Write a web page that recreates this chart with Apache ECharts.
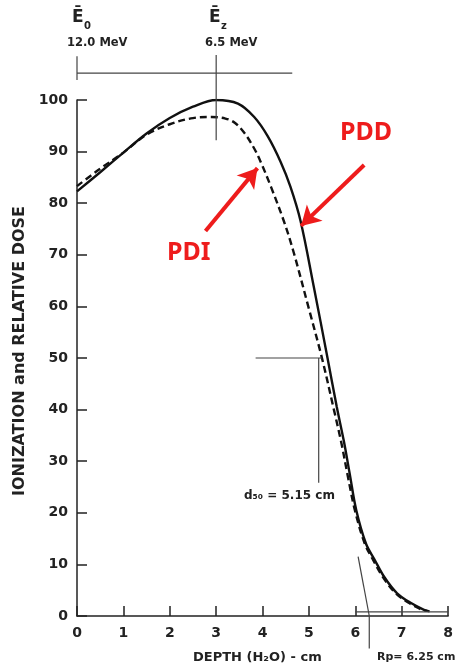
<!DOCTYPE html>
<html>
<head>
<meta charset="utf-8">
<script src="https://cdn.jsdelivr.net/npm/echarts@6/dist/echarts.min.js"></script>
<style>
  html, body { margin: 0; padding: 0; background: #fff; }
  #visualisation { width: 456px; height: 671px; }
</style>
</head>
<body>
<div id="visualisation"></div>
<script>
// depth (cm) and dose values
const pddDepth = [0, 0.5, 1, 1.5, 2, 2.5, 3, 3.47, 3.82, 4.11, 4.39, 4.6, 4.82, 5.1, 5.4, 5.6, 5.75, 5.88, 6.02, 6.23, 6.41, 6.62, 6.9, 7.2, 7.48, 7.6];
const pddValue = [82.3, 86, 89.8, 93.5, 96.5, 98.7, 100, 99.3, 96.7, 93, 88, 83.2, 76.5, 64, 50, 40.5, 34, 27.5, 20.5, 14, 11, 7.6, 4.4, 2.5, 1.2, 0.9];

const pdiDepth = [0, 0.5, 1, 1.5, 2, 2.5, 2.9, 3.2, 3.4, 3.61, 3.82, 3.96, 4.18, 4.46, 4.67, 5.0, 5.28, 5.54, 5.7, 5.84, 5.99, 6.2, 6.38, 6.59, 6.87, 7.16, 7.44, 7.55];
const pdiValue = [83.3, 86.7, 89.8, 93.3, 95.3, 96.5, 96.7, 96.4, 95.6, 93.6, 90.6, 88, 83.2, 76.5, 70.5, 59.5, 50, 39.9, 33.5, 27, 20.5, 14.1, 10.9, 7.6, 4.4, 2.5, 1.2, 1.0];

const xTicks = [0, 1, 2, 3, 4, 5, 6, 7, 8];
const yTicks = [0, 10, 20, 30, 40, 50, 60, 70, 80, 90, 100];

// thin construction lines of the original figure, in data units
const guideLines = [
    [[0, 105.2], [4.64, 105.2]],     // energy bar
    [[0, 108.5], [0, 103.9]],        // E0 tick
    [[3, 108.7], [3, 92.2]],         // Ez line
    [[3.85, 50], [5.28, 50]],        // 50 % level
    [[5.21, 50], [5.21, 25.8]],      // d50 drop
    [[6.06, 11.5], [6.3, 0]],        // tangent for Rp
    [[6.3, 0], [6.3, -6.3]],         // Rp pointer
    [[6, 0.8], [8, 0.8]]             // bremsstrahlung tail
];

// red arrows (start -> tip)
const arrows = [
    [[6.19, 87.4], [4.83, 75.6]],    // PDD
    [[2.77, 74.6], [3.89, 86.8]]     // PDI
];

const font = 'DejaVu Sans';

function drawVisualisation() {
    let chart = echarts.init(document.getElementById('visualisation'));

    let series = [
        {
            name: 'PDD',
            type: 'line',
            data: pddDepth.map((d, i) => [d, pddValue[i]]),
            smooth: 0.35,
            showSymbol: false,
            lineStyle: { color: '#111', width: 2.4 },
            markLine: {
                silent: true,
                symbol: ['none', 'arrow'],
                symbolSize: [17, 19],
                label: { show: false },
                lineStyle: { color: '#ee1c1c', width: 4, type: 'solid' },
                data: arrows.map(a => [{ coord: a[0] }, { coord: a[1] }])
            }
        },
        {
            name: 'PDI',
            type: 'line',
            data: pdiDepth.map((d, i) => [d, pdiValue[i]]),
            smooth: 0.35,
            showSymbol: false,
            lineStyle: { color: '#111', width: 2.4, type: [7, 4] }
        }
    ];

    guideLines.forEach(seg => {
        series.push({
            type: 'line',
            data: seg,
            clip: false,
            showSymbol: false,
            silent: true,
            lineStyle: { color: '#444', width: 1.2 }
        });
    });

    let txt = (left, top, text, size, extra) => ({
        type: 'text', left: left, top: top,
        style: Object.assign({ text: text, fontFamily: font, fontWeight: 'bold', fontSize: size, fill: '#222' }, extra || {})
    });

    let option = {
        animation: false,
        backgroundColor: '#fff',
        grid: { left: 77, right: 3, top: 100, bottom: 55 },
        xAxis: {
            type: 'value',
            min: 0,
            max: 8,
            interval: 1,
            splitLine: { show: false },
            axisLine: { lineStyle: { color: '#222', width: 1.5 } },
            axisTick: { inside: true, length: 10, lineStyle: { color: '#222', width: 1.5 } },
            axisLabel: {
                margin: 10,
                color: '#222',
                fontFamily: font,
                fontWeight: 'bold',
                fontSize: 14,
                formatter: v => xTicks.includes(v) ? String(v) : ''
            }
        },
        yAxis: {
            type: 'value',
            min: 0,
            max: 100,
            interval: 10,
            name: 'IONIZATION and RELATIVE DOSE',
            nameLocation: 'middle',
            nameGap: 49,
            nameTextStyle: { color: '#222', fontFamily: font, fontWeight: 'bold', fontSize: 16, padding: [0, 0, 0, 14] },
            splitLine: { show: false },
            axisLine: { lineStyle: { color: '#222', width: 1.5 } },
            axisTick: { inside: true, length: 10, lineStyle: { color: '#222', width: 1.5 } },
            axisLabel: {
                margin: 9,
                color: '#222',
                fontFamily: font,
                fontWeight: 'bold',
                fontSize: 14,
                formatter: v => yTicks.includes(v) ? String(v) : ''
            }
        },
        series: series,
        graphic: [
            txt(72, 9, 'Ē', 17),
            txt(84, 21, '0', 10),
            txt(67, 37, '12.0 MeV', 11.5),
            txt(209, 9, 'Ē', 17),
            txt(221, 21, 'z', 10),
            txt(205, 37, '6.5 MeV', 11.5),
            txt(244, 490, 'd₅₀ = 5.15 cm', 12),
            txt(193, 651, 'DEPTH (H₂O) - cm', 13),
            txt(377, 652, 'Rp= 6.25 cm', 11),
            txt(340, 120, 'PDD', 25, { fontFamily: 'Noto Sans', fill: '#ee1c1c' }),
            txt(167, 240, 'PDI', 25, { fontFamily: 'Noto Sans', fill: '#ee1c1c' })
        ]
    };

    chart.setOption(option);
}

window.addEventListener('load', drawVisualisation);
</script>
</body>
</html>
